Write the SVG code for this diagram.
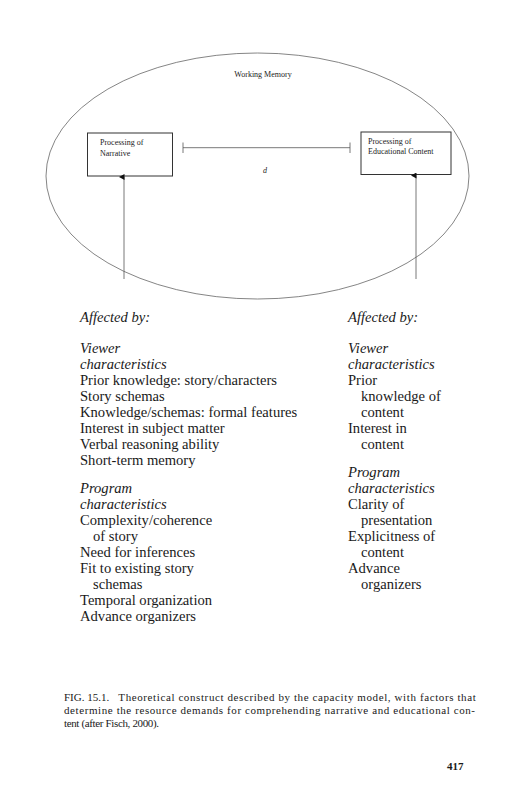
<svg xmlns="http://www.w3.org/2000/svg" width="516" height="800" viewBox="0 0 516 800">
<defs>
<style>
.dg{font-family:"Liberation Serif","Times New Roman",serif;font-size:8px;fill:#222}
.t{font-family:"Liberation Serif","Times New Roman",serif;font-size:14.6px;fill:#1a1a1a}
.i{font-style:italic}
.cap{font-family:"Liberation Serif","Times New Roman",serif;font-size:11px;fill:#1a1a1a}
.box{fill:none;stroke:#333;stroke-width:1}
.ln{fill:none;stroke:#555;stroke-width:0.8}
</style>
<marker id="ah" markerWidth="6" markerHeight="6" refX="3" refY="5" orient="auto-start-reverse" markerUnits="userSpaceOnUse" viewBox="0 0 6 6">
<path d="M0,5.5 L3,0 L6,5.5 Z" fill="#111"/>
</marker>
</defs>
<rect width="516" height="800" fill="#fff"/>
<g id="working-memory">
<ellipse cx="257.5" cy="176" rx="211.5" ry="123" fill="none" stroke="#666" stroke-width="0.8"/>
<text class="dg" x="263" y="77" text-anchor="middle">Working Memory</text>
</g>
<g id="narrative">
<rect class="box" x="87.5" y="133" width="85" height="43" stroke-width="1.2"/>
<text class="dg" x="100" y="145">Processing of</text>
<text class="dg" x="100" y="155.5">Narrative</text>
</g>
<g id="educational">
<rect class="box" x="361" y="132" width="90" height="42.5" stroke="#666" stroke-width="0.8"/>
<text class="dg" x="368" y="143.5">Processing of</text>
<text class="dg" x="368" y="153.5">Educational Content</text>
</g>
<g id="connectors">
<line class="ln" x1="183" y1="147.7" x2="350" y2="147.7"/>
<line class="ln" x1="183" y1="142.5" x2="183" y2="153"/>
<line class="ln" x1="350" y1="142.5" x2="350" y2="153"/>
<text class="dg" x="263" y="173" font-style="italic">d</text>
<line class="ln" x1="124" y1="279" x2="124" y2="177" marker-end="url(#ah)"/>
<line class="ln" x1="416" y1="279" x2="416" y2="175.5" marker-end="url(#ah)"/>
</g>
<g id="left-list">
<text class="t i" x="80" y="322">Affected by:</text>
<text class="t i" x="80" y="352.5">Viewer</text>
<text class="t i" x="80" y="368.5">characteristics</text>
<text class="t" x="80" y="384.5">Prior knowledge: story/characters</text>
<text class="t" x="80" y="400.5">Story schemas</text>
<text class="t" x="80" y="416.5">Knowledge/schemas: formal features</text>
<text class="t" x="80" y="432.5">Interest in subject matter</text>
<text class="t" x="80" y="448.5">Verbal reasoning ability</text>
<text class="t" x="80" y="464.5">Short-term memory</text>
<text class="t i" x="80" y="493">Program</text>
<text class="t i" x="80" y="509">characteristics</text>
<text class="t" x="80" y="525">Complexity/coherence</text>
<text class="t" x="93" y="541">of story</text>
<text class="t" x="80" y="557">Need for inferences</text>
<text class="t" x="80" y="573">Fit to existing story</text>
<text class="t" x="93" y="589">schemas</text>
<text class="t" x="80" y="605">Temporal organization</text>
<text class="t" x="80" y="621">Advance organizers</text>
</g>
<g id="right-list">
<text class="t i" x="348" y="322">Affected by:</text>
<text class="t i" x="348" y="352.5">Viewer</text>
<text class="t i" x="348" y="368.5">characteristics</text>
<text class="t" x="348" y="384.5">Prior</text>
<text class="t" x="361" y="400.5">knowledge of</text>
<text class="t" x="361" y="416.5">content</text>
<text class="t" x="348" y="432.5">Interest in</text>
<text class="t" x="361" y="448.5">content</text>
<text class="t i" x="348" y="477">Program</text>
<text class="t i" x="348" y="493">characteristics</text>
<text class="t" x="348" y="509">Clarity of</text>
<text class="t" x="361" y="525">presentation</text>
<text class="t" x="348" y="541">Explicitness of</text>
<text class="t" x="361" y="557">content</text>
<text class="t" x="348" y="573">Advance</text>
<text class="t" x="361" y="589">organizers</text>
</g>
<g id="caption">
<text class="cap" x="64" y="700.5">FIG. 15.1.</text>
<text class="cap" x="118.3" y="700.5" textLength="357.4" lengthAdjust="spacing">Theoretical construct described by the capacity model, with factors that</text>
<text class="cap" x="64" y="713.5" textLength="411" lengthAdjust="spacing">determine the resource demands for comprehending narrative and educational con-</text>
<text class="cap" x="64" y="726.5" textLength="95" lengthAdjust="spacing">tent (after Fisch, 2000).</text>
<text class="cap" x="447" y="770" font-weight="bold">417</text>
</g>
</svg>
